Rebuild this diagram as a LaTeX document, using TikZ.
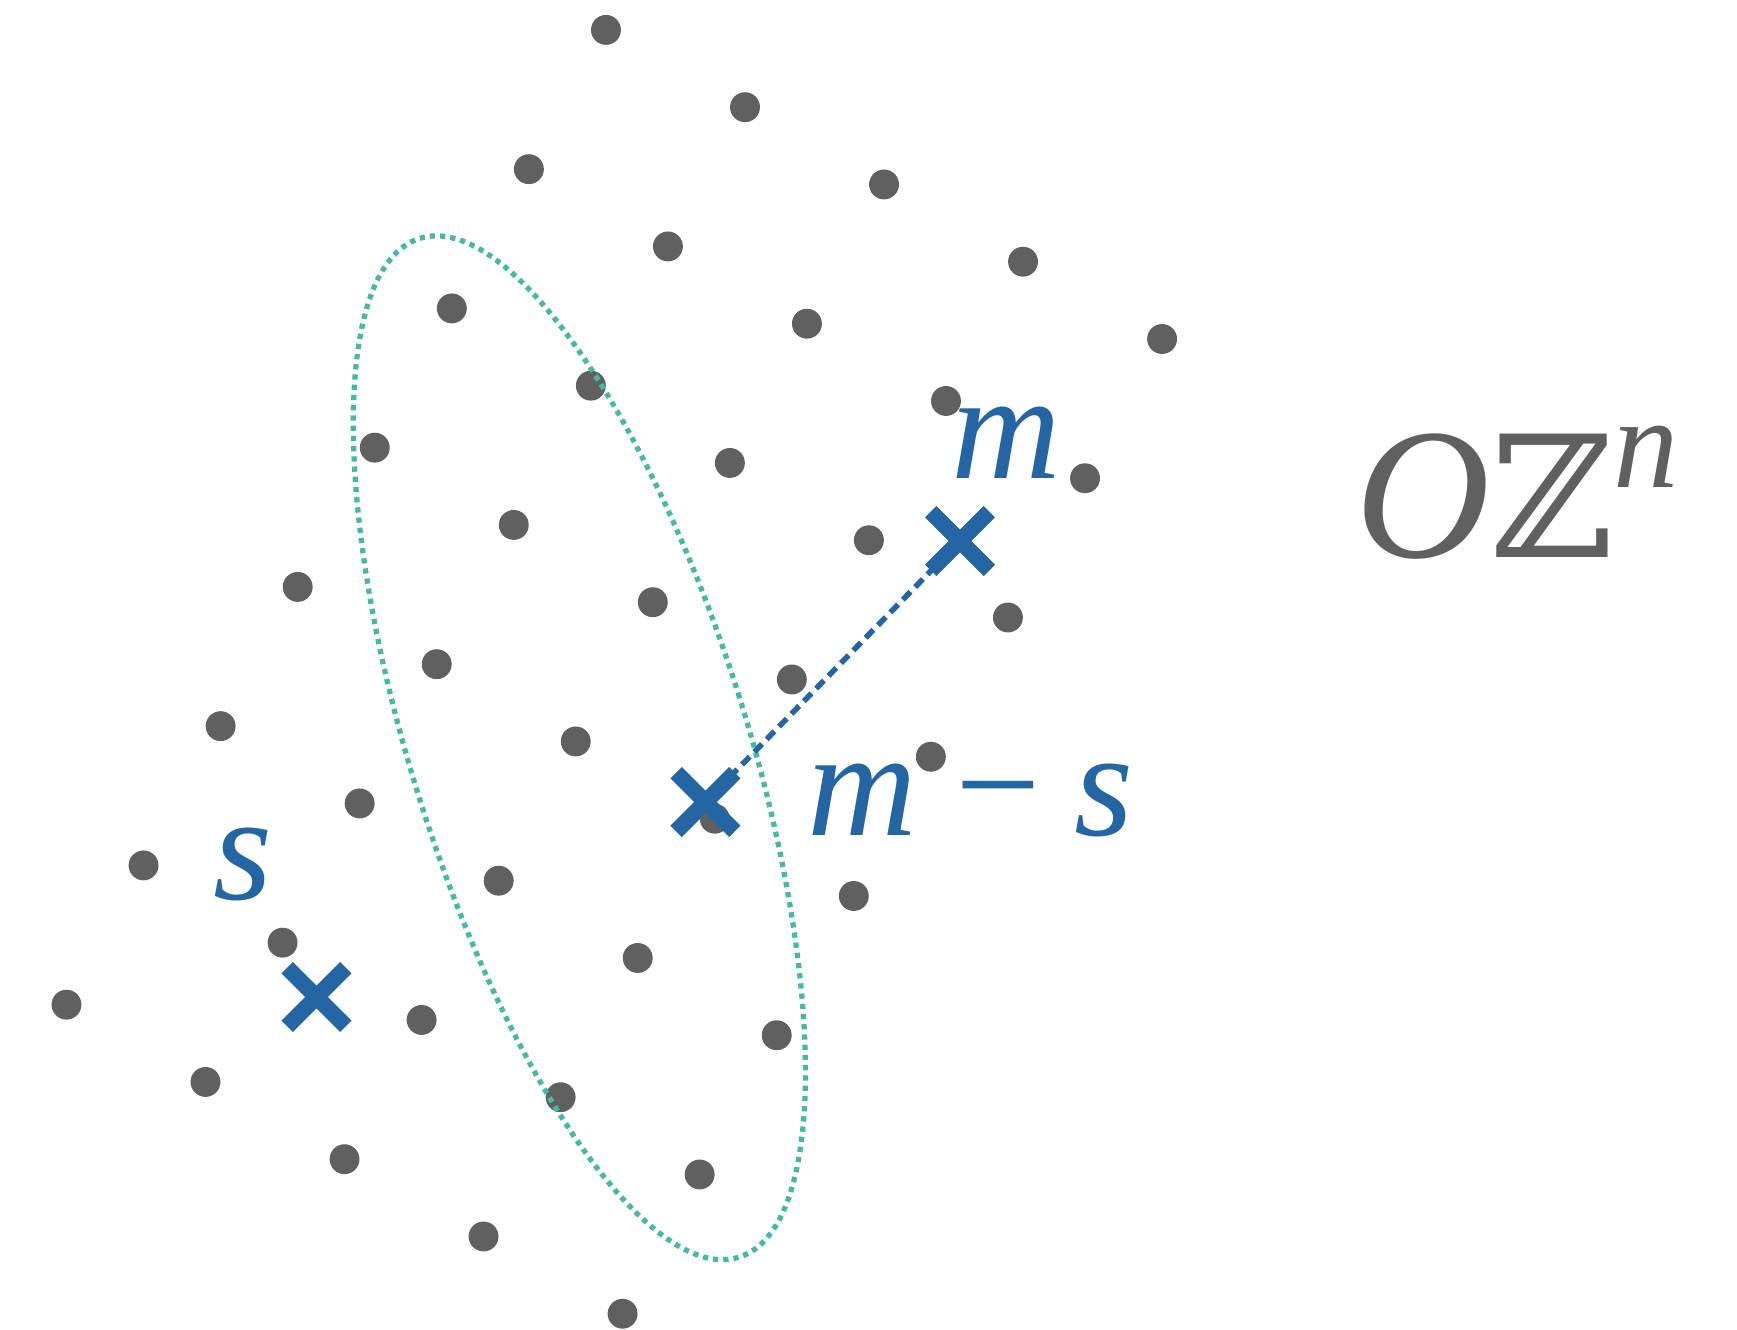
\documentclass[tikz,border=0pt]{standalone}
\usepackage{fontspec}
\setmainfont{Liberation Serif}[ItalicFont={Liberation Serif Italic}]
\newfontfamily\dvserif{DejaVu Serif}
\usetikzlibrary{shapes.misc}
\definecolor{latgray}{HTML}{606060}
\definecolor{crossblue}{HTML}{2366A3}
\definecolor{ringteal}{HTML}{45B9A5}

\begin{document}
\begin{tikzpicture}[x=0.02cm, y=-0.02cm,
    latpt/.style={circle, fill=latgray, inner sep=0pt, minimum size=0.54cm},
    crossmk/.style={cross out, draw=crossblue, line width=0.29cm, inner sep=0pt, outer sep=0pt, minimum size=1.06cm},
    lbl/.style={text=crossblue, inner sep=0pt, anchor=base west, font=\fontsize{78}{90}\selectfont\itshape}]
  \useasboundingbox (0,0) rectangle (1568,1200);
  % lattice points
  \foreach \i in {0,...,4}
    \foreach \j in {0,...,7}
      \node[latpt] (p\i\j) at ({547+125.5*\i-69.57*\j},{27+69.75*\i+125.7*\j}) {};
  % ellipse
  \draw[ringteal, line width=0.095cm, dash pattern=on 0.095cm off 0.09cm]
    (523,675) circle [x radius=3.03cm, y radius=9.64cm, rotate=17.4];
  % the three points
  \coordinate (mpos) at (866.6,488.4);
  \coordinate (mspos) at (636.8,724);
  \draw[crossblue, line width=0.1cm, dash pattern=on 0.2cm off 0.12cm] (mpos) -- (mspos);
  \node[crossmk] (m) at (mpos) {};
  \node[crossmk] (ms) at (mspos) {};
  \node[crossmk] (s) at (285.7,900) {};
  \node[lbl] (mlab) at (859,432) {m};
  \node[lbl] (mslab) at (729,754) {m\hspace{0.25em}{\upshape −}\hspace{0.22em}s};
  \node[lbl] (slab) at (192,812) {s};
  \node[anchor=base west, inner sep=0pt, text=latgray, font=\fontsize{96}{110}\selectfont]
    (lat) at (1223,503) {\itshape O\upshape{\dvserif\fontsize{87}{100}\selectfont ℤ}\raisebox{35.8pt}{\fontsize{67}{70}\selectfont\itshape n}};
\end{tikzpicture}
\end{document}
